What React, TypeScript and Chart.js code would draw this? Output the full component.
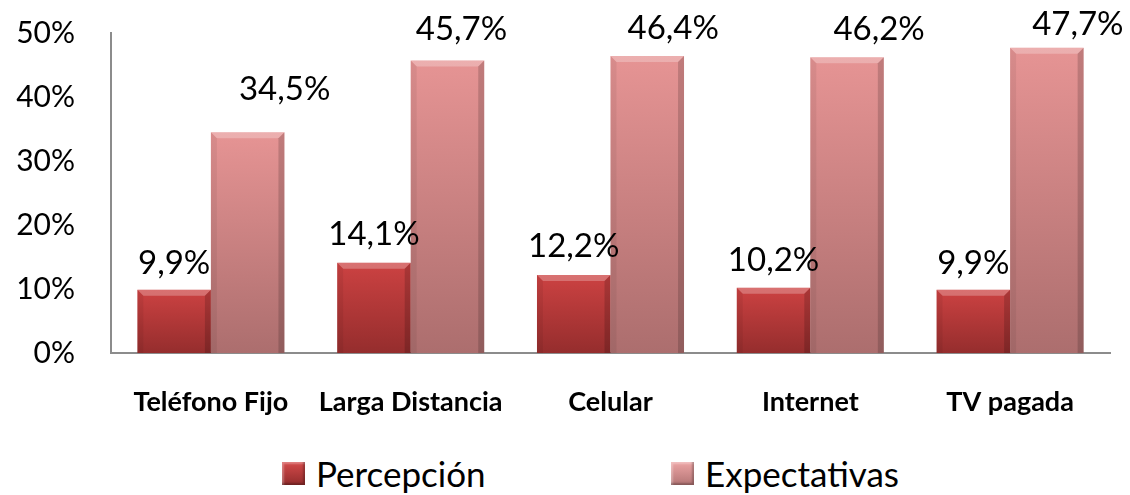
import React, { useEffect, useRef } from "react";
import { Chart, registerables } from "chart.js";

Chart.register(...registerables);

const categories = ["Teléfono Fijo", "Larga Distancia", "Celular", "Internet", "TV pagada"];
const percepcion = [9.9, 14.1, 12.2, 10.2, 9.9];
const expectativas = [34.5, 45.7, 46.4, 46.2, 47.7];
const seriesNames = ["Percepción", "Expectativas"];
const yTicks = [0, 10, 20, 30, 40, 50];

// label placement styles (pixel offsets relative to each bar top)
const labelShiftX = [
  [0, 0, 0, 0, 0],
  [37, 14, 26, 32, 31],
];
const labelShiftY = [
  [28, 30, 30, 29, 28],
  [44, 32, 29, 29, 25],
];

const FONT = "Lato, 'Open Sans', sans-serif";
const COLORS = [
  { top: "#cc4242", bottom: "#952d2d", legend: "linear-gradient(#d44a4a, #922c2c)" },
  { top: "#e69494", bottom: "#ac6e6e", legend: "linear-gradient(#eda4a4, #b37575)" },
];

const bevelPlugin = {
  id: "bevel",
  afterDatasetsDraw(chart: any) {
    const ctx = chart.ctx;
    chart.data.datasets.forEach((ds: any, di: number) => {
      const meta = chart.getDatasetMeta(di);
      meta.data.forEach((bar: any) => {
        const w = bar.width;
        const x0 = bar.x - w / 2;
        const y0 = bar.y;
        const h = bar.base - bar.y;
        const b = 6;
        ctx.save();
        ctx.fillStyle = "rgba(255,255,255,0.25)";
        ctx.beginPath();
        ctx.moveTo(x0, y0);
        ctx.lineTo(x0 + w, y0);
        ctx.lineTo(x0 + w - b, y0 + b);
        ctx.lineTo(x0 + b, y0 + b);
        ctx.closePath();
        ctx.fill();
        ctx.fillStyle = "rgba(0,0,0,0.16)";
        ctx.beginPath();
        ctx.moveTo(x0 + w, y0);
        ctx.lineTo(x0 + w, y0 + h);
        ctx.lineTo(x0 + w - b, y0 + h);
        ctx.lineTo(x0 + w - b, y0 + b);
        ctx.closePath();
        ctx.fill();
        ctx.fillStyle = "rgba(0,0,0,0.06)";
        ctx.beginPath();
        ctx.moveTo(x0, y0);
        ctx.lineTo(x0 + b, y0 + b);
        ctx.lineTo(x0 + b, y0 + h);
        ctx.lineTo(x0, y0 + h);
        ctx.closePath();
        ctx.fill();
        ctx.restore();
      });
    });
  },
};

const LABEL_SIZE = 33;
const labelPlugin = {
  id: "valueLabels",
  afterDatasetsDraw(chart: any) {
    const ctx = chart.ctx;
    ctx.save();
    ctx.font = `${LABEL_SIZE}px ${FONT}`;
    ctx.fillStyle = "#000";
    ctx.textAlign = "center";
    ctx.textBaseline = "alphabetic";
    chart.data.datasets.forEach((ds: any, di: number) => {
      const meta = chart.getDatasetMeta(di);
      meta.data.forEach((bar: any, i: number) => {
        const v = ds.data[i] as number;
        const txt = v.toFixed(1).replace(".", ",") + "%";
        const capCenter = bar.y - labelShiftY[di][i];
        ctx.fillText(txt, bar.x + labelShiftX[di][i], capCenter + LABEL_SIZE * 0.36);
      });
    });
    ctx.restore();
  },
};

function barFill(di: number) {
  return (c: any) => {
    const chart = c.chart;
    const area = chart.chartArea;
    if (!area || c.raw == null) return COLORS[di].top;
    const yScale = chart.scales.y;
    const top = yScale.getPixelForValue(c.raw);
    const bottom = yScale.getPixelForValue(0);
    const g = chart.ctx.createLinearGradient(0, top, 0, bottom);
    g.addColorStop(0, COLORS[di].top);
    g.addColorStop(1, COLORS[di].bottom);
    return g;
  };
}

const CANVAS_H = 430;

export default function App() {
  const ref = useRef<HTMLCanvasElement | null>(null);
  useEffect(() => {
    document.body.style.margin = "0";
    const canvas = ref.current!;
    const chart = new Chart(canvas, {
      type: "bar",
      data: {
        labels: categories,
        datasets: [percepcion, expectativas].map((d, di) => ({
          label: seriesNames[di],
          data: d,
          backgroundColor: barFill(di),
          borderWidth: 0,
          categoryPercentage: 0.736,
          barPercentage: 1,
        })),
      },
      options: {
        animation: false,
        responsive: false,
        layout: { padding: { left: 8, right: 20, top: 33, bottom: 0 } },
        scales: {
          x: {
            grid: { display: false },
            border: { color: "#8c8c8c", width: 2 },
            ticks: {
              color: "#000",
              font: { family: FONT, size: 27, weight: "bold" },
              padding: 25,
              maxRotation: 0,
              autoSkip: false,
            },
            afterFit: (s: any) => {
              s.height = CANVAS_H - 353;
            },
          },
          y: {
            min: 0,
            max: 50,
            afterBuildTicks: (axis: any) => {
              axis.ticks = yTicks.map((v) => ({ value: v }));
            },
            grid: { display: false },
            border: { color: "#8c8c8c", width: 2 },
            ticks: {
              color: "#000",
              autoSkip: false,
              font: { family: FONT, size: 30 },
              padding: 28,
              callback: (v: any) => v + "%",
            },
            afterFit: (s: any) => {
              s.width = 103;
              s.paddingTop = 0;
              s.paddingBottom = 0;
            },
          },
        },
        plugins: {
          legend: { display: false },
          tooltip: { enabled: false },
        },
      },
      plugins: [bevelPlugin, labelPlugin],
    } as any);
    return () => chart.destroy();
  }, []);
  return (
    <div style={{ position: "relative", width: 1130, height: 495, overflow: "hidden" }}>
      <canvas
        ref={ref}
        width={1130}
        height={CANVAS_H}
        style={{ position: "absolute", left: 0, top: 0, width: 1130, height: CANVAS_H }}
      />
      <div
        style={{
          position: "absolute",
          left: 282,
          top: 453,
          height: 40,
          display: "flex",
          fontFamily: FONT,
          fontSize: 35,
          color: "#000",
          lineHeight: "40px",
        }}
      >
        {seriesNames.map((n, i) => (
          <div
            key={n}
            style={{ display: "flex", alignItems: "center", gap: 11, width: i === 0 ? 389 : 300 }}
          >
            <span
              style={{
                display: "inline-block",
                width: 23,
                height: 23,
                flex: "none",
                background: COLORS[i].legend,
                boxShadow: "inset -2px -2px 2px rgba(0,0,0,0.25), inset 2px 2px 2px rgba(255,255,255,0.3)",
              }}
            />
            <span>{n}</span>
          </div>
        ))}
      </div>
    </div>
  );
}
